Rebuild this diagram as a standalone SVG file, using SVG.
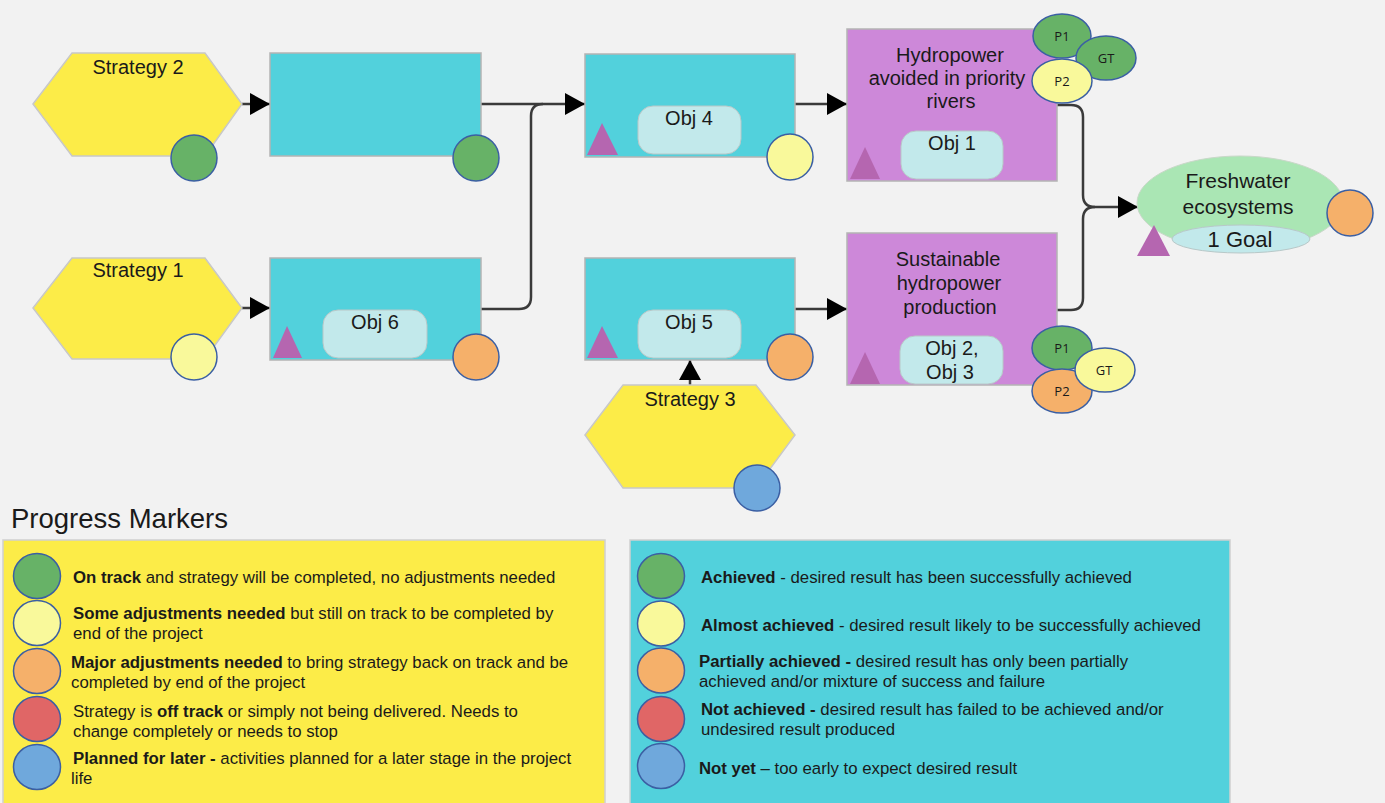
<svg xmlns="http://www.w3.org/2000/svg" width="1385" height="803" viewBox="0 0 1385 803">
<defs>
<marker id="arr" markerUnits="userSpaceOnUse" markerWidth="22" markerHeight="22" refX="20" refY="11" orient="auto">
<path d="M0,0 L20,11 L0,22 z" fill="#000"/>
</marker>
<style>
text{font-family:"Liberation Sans",Arial,sans-serif;fill:#1a1a1a}
.hex{fill:#fcec48;stroke:#c8c8c8;stroke-width:1.5}
.box{fill:#52d1dc;stroke:#b4b4b4;stroke-width:1.5}
.pbox{fill:#cd88d9;stroke:#b4b4b4;stroke-width:1.5}
.pill{fill:#c2e9eb;stroke:#b8c8c8;stroke-width:1}
.tri{fill:#b566b0}
.mk{stroke:#3b5fa3;stroke-width:1.5}
.g{fill:#67b267}.y{fill:#f9f99b}.o{fill:#f5b06a}.r{fill:#e06666}.b{fill:#6fa8dc}
.lbl{font-size:20px;text-anchor:middle}
.sm{font-size:13px;text-anchor:middle;font-family:"Open Sans","Liberation Sans",sans-serif}
.lg{font-size:16.8px}
.bd{font-weight:bold}
.con{fill:none;stroke:#3a3a3a;stroke-width:2.5}
</style>
</defs>
<rect x="0" y="0" width="1385" height="803" fill="#f2f2f2"/>

<g id="connectors">
<path class="con" d="M242,104 H270" marker-end="url(#arr)"/>
<path class="con" d="M481,104 H585" marker-end="url(#arr)"/>
<path class="con" d="M481,309 H519 Q531,309 531,297 V116 Q531,104 543,104"/>
<path class="con" d="M795,104 H847" marker-end="url(#arr)"/>
<path class="con" d="M242,308 H270" marker-end="url(#arr)"/>
<path class="con" d="M795,309 H847" marker-end="url(#arr)"/>
<path class="con" d="M690,385 V360" marker-end="url(#arr)"/>
<path class="con" d="M1057,105 H1071 Q1083,105 1083,117 V195 Q1083,207 1095,207 H1138" marker-end="url(#arr)"/>
<path class="con" d="M1057,310 H1071 Q1083,310 1083,298 V219 Q1083,207 1095,207"/>
</g>

<g id="strategy2">
<polygon class="hex" points="33,104 72,53 205,53 242,104 205,156 72,156"/>
<text class="lbl" x="138" y="74">Strategy 2</text>
<circle class="mk g" cx="194" cy="158" r="23"/>
</g>

<g id="strategy1">
<polygon class="hex" points="33,308 72,258 205,258 242,308 205,359 72,359"/>
<text class="lbl" x="138" y="277">Strategy 1</text>
<circle class="mk y" cx="194" cy="357" r="23"/>
</g>

<g id="strategy3">
<polygon class="hex" points="585,435 623,385 756,385 795,435 756,488 623,488"/>
<text class="lbl" x="690" y="406">Strategy 3</text>
<circle class="mk b" cx="757" cy="488" r="23"/>
</g>

<g id="result1">
<rect class="box" x="270" y="53" width="211" height="103"/>
<circle class="mk g" cx="476" cy="158" r="23"/>
</g>

<g id="obj6">
<rect class="box" x="270" y="258" width="211" height="102"/>
<rect class="pill" x="323" y="310" width="104" height="48" rx="15"/>
<text class="lbl" x="375" y="329">Obj 6</text>
<polygon class="tri" points="273,358 287,326 302,358"/>
<circle class="mk o" cx="476" cy="357" r="23"/>
</g>

<g id="obj4">
<rect class="box" x="585" y="54" width="210" height="103"/>
<rect class="pill" x="638" y="106" width="103" height="48" rx="15"/>
<text class="lbl" x="689" y="125">Obj 4</text>
<polygon class="tri" points="587,155 602,123 618,155"/>
<circle class="mk y" cx="790" cy="157" r="23"/>
</g>

<g id="obj5">
<rect class="box" x="585" y="258" width="210" height="102"/>
<rect class="pill" x="638" y="310" width="103" height="48" rx="15"/>
<text class="lbl" x="689" y="329">Obj 5</text>
<polygon class="tri" points="587,358 602,326 618,358"/>
<circle class="mk o" cx="790" cy="357" r="23"/>
</g>

<g id="hydro">
<rect class="pbox" x="847" y="29" width="210" height="152"/>
<text class="lbl" x="950" y="62">Hydropower</text>
<text class="lbl" x="947" y="85">avoided in priority</text>
<text class="lbl" x="951" y="108">rivers</text>
<rect class="pill" x="901" y="131" width="102" height="48" rx="15"/>
<text class="lbl" x="952" y="150">Obj 1</text>
<polygon class="tri" points="850,179 865,147 880,179"/>
<ellipse class="mk g" cx="1062" cy="36" rx="29" ry="22"/>
<ellipse class="mk g" cx="1106" cy="58" rx="30" ry="22"/>
<ellipse class="mk y" cx="1062" cy="81" rx="30" ry="22"/>
<text class="sm" x="1062" y="41">P1</text>
<text class="sm" x="1106" y="63">GT</text>
<text class="sm" x="1062" y="86">P2</text>
</g>

<g id="sustain">
<rect class="pbox" x="847" y="233" width="210" height="152"/>
<text class="lbl" x="948" y="266">Sustainable</text>
<text class="lbl" x="949" y="290">hydropower</text>
<text class="lbl" x="950" y="314">production</text>
<rect class="pill" x="900" y="336" width="103" height="48" rx="15"/>
<text class="lbl" x="952" y="355">Obj 2,</text>
<text class="lbl" x="950" y="379">Obj 3</text>
<polygon class="tri" points="850,384 865,352 880,384"/>
<ellipse class="mk g" cx="1062" cy="348" rx="30" ry="22"/>
<ellipse class="mk o" cx="1062" cy="391" rx="30" ry="22"/>
<ellipse class="mk y" cx="1105" cy="370" rx="30" ry="22"/>
<text class="sm" x="1062" y="353">P1</text>
<text class="sm" x="1104" y="375">GT</text>
<text class="sm" x="1062" y="396">P2</text>
</g>

<g id="goal">
<ellipse cx="1240" cy="203" rx="103" ry="47" fill="#aae6b4" stroke="#c8d8c8" stroke-width="1"/>
<text class="lbl" x="1238" y="188" style="font-size:21px">Freshwater</text>
<text class="lbl" x="1238" y="214" style="font-size:21px">ecosystems</text>
<ellipse cx="1241" cy="239" rx="69" ry="14" fill="#c2e9eb" stroke="#b8c8c8" stroke-width="1"/>
<text class="lbl" x="1240" y="247" style="font-size:22px">1 Goal</text>
<polygon class="tri" points="1137,256 1154,225 1170,256"/>
<circle class="mk o" cx="1350" cy="213" r="23"/>
</g>

<text x="11" y="528" style="font-size:27.5px">Progress Markers</text>

<g id="legend-strategy">
<rect x="3" y="540" width="602" height="270" fill="#fcec48" stroke="#d0d0d0" stroke-width="1.5"/>
<ellipse class="mk g" cx="37" cy="576" rx="23.5" ry="22.5"/>
<ellipse class="mk y" cx="37" cy="623" rx="23.5" ry="22.5"/>
<ellipse class="mk o" cx="37" cy="671" rx="23.5" ry="22.5"/>
<ellipse class="mk r" cx="37" cy="719" rx="23.5" ry="22.5"/>
<ellipse class="mk b" cx="37" cy="767" rx="23.5" ry="22.5"/>
<text class="lg" x="73" y="583"><tspan class="bd">On track</tspan> and strategy will be completed, no adjustments needed</text>
<text class="lg" x="73" y="619"><tspan class="bd">Some adjustments needed</tspan> but still on track to be completed by</text>
<text class="lg" x="73" y="639">end of the project</text>
<text class="lg" x="71" y="668"><tspan class="bd">Major adjustments needed</tspan> to bring strategy back on track and be</text>
<text class="lg" x="71" y="688">completed by end of the project</text>
<text class="lg" x="73" y="717">Strategy is <tspan class="bd">off track</tspan> or simply not being delivered. Needs to</text>
<text class="lg" x="73" y="737">change completely or needs to stop</text>
<text class="lg" x="73" y="764"><tspan class="bd">Planned for later -</tspan> activities planned for a later stage in the project</text>
<text class="lg" x="71" y="784">life</text>
</g>

<g id="legend-result">
<rect x="630" y="540" width="600" height="270" fill="#52d1dc" stroke="#d0d0d0" stroke-width="1.5"/>
<ellipse class="mk g" cx="661" cy="576" rx="23.5" ry="22.5"/>
<ellipse class="mk y" cx="661" cy="623.5" rx="23.5" ry="22.5"/>
<ellipse class="mk o" cx="661" cy="670.5" rx="23.5" ry="22.5"/>
<ellipse class="mk r" cx="661" cy="719" rx="23.5" ry="22.5"/>
<ellipse class="mk b" cx="661" cy="766" rx="23.5" ry="22.5"/>
<text class="lg" x="701" y="583"><tspan class="bd">Achieved</tspan> - desired result has been successfully achieved</text>
<text class="lg" x="701" y="631"><tspan class="bd">Almost achieved</tspan> - desired result likely to be successfully achieved</text>
<text class="lg" x="699" y="667"><tspan class="bd">Partially achieved -</tspan> desired result has only been partially</text>
<text class="lg" x="699" y="687">achieved and/or mixture of success and failure</text>
<text class="lg" x="701" y="715"><tspan class="bd">Not achieved -</tspan> desired result has failed to be achieved and/or</text>
<text class="lg" x="701" y="735">undesired result produced</text>
<text class="lg" x="699" y="774"><tspan class="bd">Not yet</tspan> – too early to expect desired result</text>
</g>
</svg>
